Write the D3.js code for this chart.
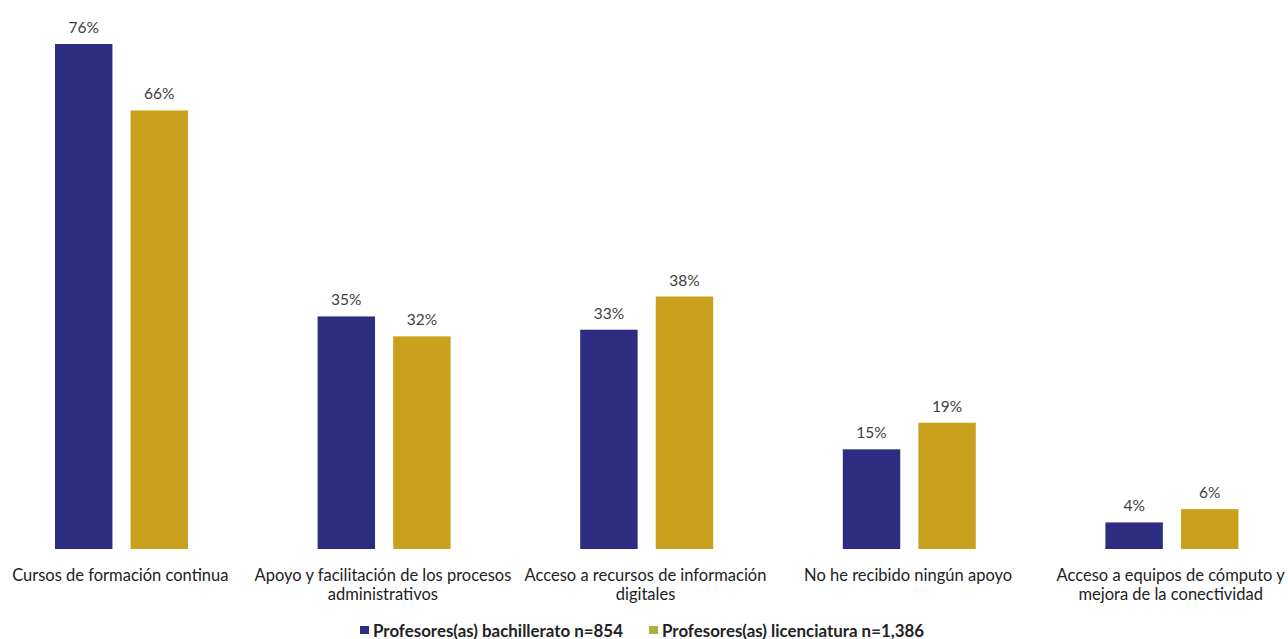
<!DOCTYPE html>
<html>
<head>
<meta charset="utf-8">
<script src="https://cdn.jsdelivr.net/npm/d3@7"></script>
<style>
  html, body { margin: 0; padding: 0; background: #ffffff; }
  svg { display: block; }
</style>
</head>
<body>
<svg id="chart" width="1288" height="639"></svg>
<script>
// Categories (multi-line labels split on "|")
const categories = [
  "Cursos de formación continua",
  "Apoyo y facilitación de los procesos|administrativos",
  "Acceso a recursos de información|digitales",
  "No he recibido ningún apoyo",
  "Acceso a equipos de cómputo y|mejora de la conectividad"
];
const seriesNames = [
  "Profesores(as) bachillerato n=854",
  "Profesores(as) licenciatura n=1,386"
];
const bachillerato = [76, 35, 33, 15, 4];
const licenciatura = [66, 32, 38, 19, 6];

const barColors = ["#2c2c80", "#c9a11c"];
const legendColors = ["#2e2f7e", "#aeb23a"];
const fontFamily = "Lato, 'Open Sans', sans-serif";

const svg = d3.select("#chart");

const x0 = d3.scaleBand().domain(categories).range([-11, 1302]).paddingInner(0).paddingOuter(0);
const x1 = d3.scaleBand().domain(seriesNames).range([66, 199]).paddingInner(0.24).paddingOuter(0);
const y = d3.scaleLinear().domain([0, 76]).range([549, 44]);

const rows = categories.map((c, i) => ({
  cat: c,
  values: [
    { s: seriesNames[0], v: bachillerato[i], k: 0 },
    { s: seriesNames[1], v: licenciatura[i], k: 1 }
  ]
}));

const groups = svg.append("g").selectAll("g")
  .data(rows).join("g")
  .attr("transform", d => `translate(${x0(d.cat)},0)`);

groups.selectAll("rect")
  .data(d => d.values).join("rect")
  .attr("x", d => x1(d.s))
  .attr("y", d => y(d.v))
  .attr("width", x1.bandwidth())
  .attr("height", d => y(0) - y(d.v))
  .attr("fill", d => barColors[d.k]);

groups.selectAll("text.val")
  .data(d => d.values).join("text")
  .attr("class", "val")
  .attr("x", d => x1(d.s) + x1.bandwidth() / 2)
  .attr("y", d => y(d.v) - 11)
  .attr("text-anchor", "middle")
  .attr("font-family", fontFamily)
  .attr("font-size", 15.5)
  .attr("fill", "#404040")
  .text(d => d.v + "%");

// Category axis labels
const xAxis = d3.axisBottom(x0).tickSize(0).tickPadding(0).tickFormat("");
const axisG = svg.append("g").attr("transform", "translate(0,549)").call(xAxis);
axisG.select(".domain").remove();
axisG.selectAll(".tick").each(function(d) {
  const lines = d.split("|");
  const t = d3.select(this).append("text")
    .attr("text-anchor", "middle")
    .attr("font-family", fontFamily)
    .attr("font-size", 16.5)
    .attr("fill", "#222");
  lines.forEach((ln, i) => {
    t.append("tspan").attr("x", 0).attr("y", 32 + i * 19).text(ln);
  });
});

// Legend
const legendItems = [
  { name: seriesNames[0], color: legendColors[0], x: 360 },
  { name: seriesNames[1], color: legendColors[1], x: 649 }
];
const lg = svg.append("g").selectAll("g").data(legendItems).join("g")
  .attr("transform", d => `translate(${d.x},626)`);
lg.append("rect").attr("width", 9).attr("height", 8).attr("fill", d => d.color);
lg.append("text")
  .attr("x", 13).attr("y", 10.5)
  .attr("font-family", fontFamily)
  .attr("font-size", 16.9)
  .attr("font-weight", "bold")
  .attr("fill", "#222")
  .text(d => d.name);
</script>
</body>
</html>
